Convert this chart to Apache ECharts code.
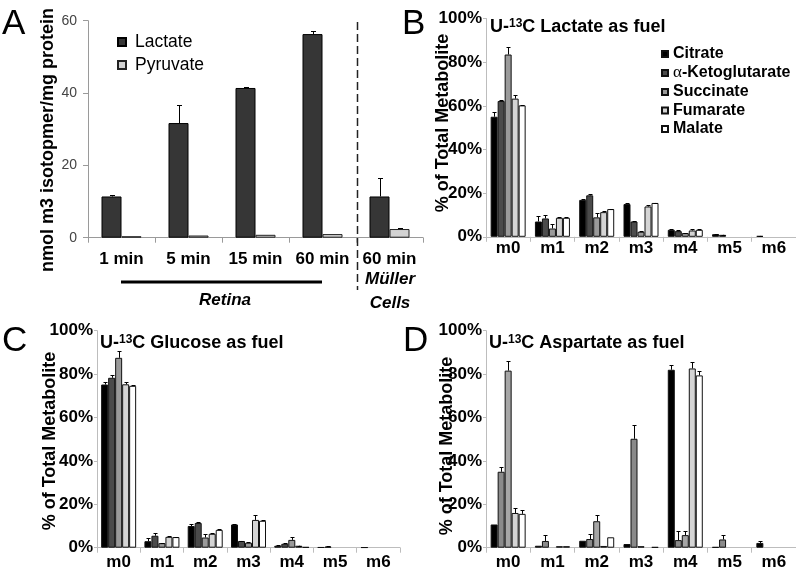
<!DOCTYPE html>
<html><head><meta charset="utf-8">
<script src="https://cdn.jsdelivr.net/npm/echarts@6/dist/echarts.min.js"></script>
<style>html,body{margin:0;padding:0;background:#fff}#c{width:796px;height:575px}</style>
</head><body><div id="c"></div>
<script>
// ---------- Panel A data ----------
const aCategories = ['1 min', '5 min', '15 min', '60 min', '60 min'];
const aLactate    = [11.4, 31.7, 41.4, 56.3, 11.4];
const aLactateSD  = [0.4, 4.9, 0.3, 0.9, 5.1];
const aPyruvate   = [0.4, 0.6, 0.8, 1.0, 2.4];
const aPyruvateSD = [0, 0, 0, 0, 0.4];

// ---------- Panels B-D shared ----------
const massCategories = ['m0', 'm1', 'm2', 'm3', 'm4', 'm5', 'm6'];
const metabolites = ['Citrate', 'α-Ketoglutarate', 'Succinate', 'Fumarate', 'Malate'];

// B: U-13C Lactate as fuel
const bCitrate   = [55.0, 7.0, 16.9, 15.0, 3.2, 1.2, 0.4];
const bAKG       = [62.2, 8.4, 19.0, 7.0, 2.6, 0.9, 0];
const bSuccinate = [83.5, 3.8, 8.9, 2.3, 1.7, 0, 0];
const bFumarate  = [63.3, 8.7, 11.3, 13.9, 2.9, 0, 0];
const bMalate    = [60.2, 8.7, 12.7, 15.5, 3.2, 0, 0];
const bCitrateSD   = [2.3, 2.5, 0.5, 0.3, 0.3, 0.2, 0.1];
const bAKGSD       = [0.5, 1.7, 0.6, 0.1, 0.3, 0.1, 0];
const bSuccinateSD = [3.3, 2.0, 1.8, 0.2, 0.2, 0, 0];
const bFumarateSD  = [1.5, 0.2, 0.7, 0.6, 0.6, 0, 0];
const bMalateSD    = [0.4, 0.2, 0.2, 0.2, 0.6, 0, 0];

// C: U-13C Glucose as fuel
const cCitrate   = [75.2, 3.0, 10.0, 10.7, 0.9, 0.2, 0.15];
const cAKG       = [78.3, 5.5, 11.4, 3.1, 1.8, 0.5, 0];
const cSuccinate = [87.5, 2.1, 4.7, 2.3, 3.6, 0, 0];
const cFumarate  = [75.3, 5.0, 6.4, 12.8, 0.9, 0, 0];
const cMalate    = [74.6, 4.9, 8.2, 12.4, 0.3, 0, 0];
const cCitrateSD   = [1.0, 1.6, 1.0, 0.3, 0.2, 0, 0];
const cAKGSD       = [1.5, 1.4, 0.3, 0.2, 0.2, 0.1, 0];
const cSuccinateSD = [3.0, 0.2, 1.5, 0.2, 1.5, 0, 0];
const cFumarateSD  = [1.2, 0.2, 0.3, 2.1, 0.1, 0, 0];
const cMalateSD    = [0.4, 0.1, 0.2, 0.4, 0, 0, 0];

// D: U-13C Aspartate as fuel
const dCitrate   = [10.7, 0.9, 3.2, 1.7, 82.0, 0.3, 2.2];
const dAKG       = [35.0, 3.1, 4.0, 50.2, 3.5, 3.8, 0];
const dSuccinate = [81.6, 0, 12.2, 0.7, 5.8, 0, 0];
const dFumarate  = [16.0, 0.7, 0.8, 0, 82.6, 0, 0];
const dMalate    = [15.6, 0.7, 4.8, 0.3, 79.4, 0, 0];
const dCitrateSD   = [0, 0, 0, 0, 2.2, 0, 1.0];
const dAKGSD       = [2.3, 2.9, 2.5, 6.5, 4.2, 2.2, 0];
const dSuccinateSD = [4.3, 0, 2.8, 0, 2.1, 0, 0];
const dFumarateSD  = [2.3, 0, 0, 0, 3.1, 0, 0];
const dMalateSD    = [1.8, 0, 0, 0, 1.8, 0, 0];

// ---------- styles ----------
const FONT = "'Liberation Sans', Arial, Helvetica, sans-serif";
const bcColors = ['#000000', '#4b4b4b', '#9a9a9a', '#d4d4d4', '#ffffff'];
const dColors  = ['#000000', '#8a8a8a', '#a6a6a6', '#d4d4d4', '#ffffff'];

function errorSeries(idx, valueLists, sdLists, barW, capW) {
  const n = valueLists.length;
  const data = [];
  valueLists.forEach((vals, k) => vals.forEach((v, i) => {
    const sd = sdLists[k][i];
    if (sd > 0) data.push([i, v, v + sd, k]);
  }));
  return {
    type: 'custom', xAxisIndex: idx, yAxisIndex: idx, z: 5, silent: true,
    encode: { x: 0, y: [1, 2] }, data,
    renderItem(params, api) {
      const i = api.value(0), k = api.value(3);
      const b = api.coord([i, api.value(1)]);
      const t = api.coord([i, api.value(2)]);
      const x = Math.round(b[0] + (k - (n - 1) / 2) * barW) + 0.5;
      const ty = Math.round(t[1]) + 0.5;
      return { type: 'group', children: [
        { type: 'line', shape: { x1: x, y1: b[1], x2: x, y2: ty }, style: { stroke: '#000', lineWidth: 1 } },
        { type: 'line', shape: { x1: x - capW / 2, y1: ty, x2: x + capW / 2, y2: ty }, style: { stroke: '#000', lineWidth: 1 } }
      ]};
    }
  };
}

function panelBars(idx, valueLists, colors) {
  return valueLists.map((vals, k) => ({
    type: 'bar', name: metabolites[k], xAxisIndex: idx, yAxisIndex: idx,
    data: vals.map(v => (v === 0 ? '-' : v)),
    barWidth: 7, barGap: '0%',
    itemStyle: { color: colors[k], borderColor: '#111', borderWidth: 1 },
    emphasis: { disabled: true }
  }));
}

const catAxisBase = (idx, labelMargin) => ({
  type: 'category', gridIndex: idx, data: massCategories,
  axisLine: { lineStyle: { color: '#bdbdbd', width: 1 } },
  axisTick: { show: true, length: 5, lineStyle: { color: '#bdbdbd' } },
  axisLabel: { interval: 0, color: '#000', fontSize: 17, fontWeight: 'bold', fontFamily: FONT, margin: labelMargin },
  splitLine: { show: false }
});
const pctAxis = (idx) => ({
  type: 'value', gridIndex: idx, min: 0, max: 100, interval: 20,
  axisLine: { show: true, lineStyle: { color: '#bdbdbd', width: 1 } },
  axisTick: { show: true, length: 3, lineStyle: { color: '#bdbdbd' } },
  axisLabel: { color: '#000', fontSize: 17, fontWeight: 'bold', fontFamily: FONT, margin: 4, formatter: '{value}%' },
  splitLine: { show: false }
});

const series = [
  { type: 'bar', name: 'Lactate', xAxisIndex: 0, yAxisIndex: 0, data: aLactate, barWidth: 20, barGap: '0%',
    itemStyle: { color: '#363636', borderColor: '#000', borderWidth: 1 }, emphasis: { disabled: true } },
  { type: 'bar', name: 'Pyruvate', xAxisIndex: 0, yAxisIndex: 0, data: aPyruvate, barWidth: 20, barGap: '0%',
    itemStyle: { color: '#d2d2d2', borderColor: '#222', borderWidth: 1 }, emphasis: { disabled: true } },
  errorSeries(0, [aLactate, aPyruvate], [aLactateSD, aPyruvateSD], 20, 5),
  ...panelBars(1, [bCitrate, bAKG, bSuccinate, bFumarate, bMalate], bcColors),
  errorSeries(1, [bCitrate, bAKG, bSuccinate, bFumarate, bMalate], [bCitrateSD, bAKGSD, bSuccinateSD, bFumarateSD, bMalateSD], 7, 4),
  ...panelBars(2, [cCitrate, cAKG, cSuccinate, cFumarate, cMalate], bcColors),
  errorSeries(2, [cCitrate, cAKG, cSuccinate, cFumarate, cMalate], [cCitrateSD, cAKGSD, cSuccinateSD, cFumarateSD, cMalateSD], 7, 4),
  ...panelBars(3, [dCitrate, dAKG, dSuccinate, dFumarate, dMalate], dColors),
  errorSeries(3, [dCitrate, dAKG, dSuccinate, dFumarate, dMalate], [dCitrateSD, dAKGSD, dSuccinateSD, dFumarateSD, dMalateSD], 7, 4)
];

function txt(text, x, y, opts) {
  return Object.assign({ type: 'text', x, y, silent: true,
    style: Object.assign({ text, fill: '#000', fontFamily: FONT, fontSize: 17, fontWeight: 'bold', align: 'left', verticalAlign: 'middle' }, opts && opts.style) },
    opts && opts.rotation !== undefined ? { rotation: opts.rotation } : {});
}
function titleTxt(pre, sup, post, x, y) {
  return { type: 'text', x, y, silent: true, style: {
    text: '{b|' + pre + '}{s|' + sup + '}{b|' + post + '}', align: 'left', verticalAlign: 'middle',
    rich: {
      b: { fontFamily: FONT, fontSize: 18, fontWeight: 'bold', fill: '#000', lineHeight: 19 },
      s: { fontFamily: FONT, fontSize: 12, fontWeight: 'bold', fill: '#000', verticalAlign: 'top', lineHeight: 13 }
    } } };
}

const option = {
  animation: false,
  backgroundColor: '#fff',
  grid: [
    { left: 88, top: 20.7, width: 335, height: 217, outerBoundsMode: 'none', containLabel: false },
    { left: 486, top: 18.5, width: 310, height: 218.3, outerBoundsMode: 'none', containLabel: false },
    { left: 97, top: 330.7, width: 303, height: 217, outerBoundsMode: 'none', containLabel: false },
    { left: 486, top: 330.7, width: 310, height: 217, outerBoundsMode: 'none', containLabel: false }
  ],
  xAxis: [
    { type: 'category', gridIndex: 0, data: aCategories,
      axisLine: { lineStyle: { color: '#9a9a9a', width: 1 } },
      axisTick: { show: true, length: 5, lineStyle: { color: '#9a9a9a' } },
      axisLabel: { interval: 0, color: '#000', fontSize: 17, fontWeight: 'bold', fontFamily: FONT, margin: 13 },
      splitLine: { show: false } },
    catAxisBase(1, 3), catAxisBase(2, 6), catAxisBase(3, 6)
  ],
  yAxis: [
    { type: 'value', gridIndex: 0, min: 0, max: 60, interval: 20,
      axisLine: { show: true, lineStyle: { color: '#9a9a9a', width: 1 } },
      axisTick: { show: true, length: 5, lineStyle: { color: '#9a9a9a' } },
      axisLabel: { color: '#444', fontSize: 14, fontFamily: FONT, margin: 11 },
      splitLine: { show: false } },
    pctAxis(1), pctAxis(2), pctAxis(3)
  ],
  legend: [
    { data: ['Lactate', 'Pyruvate'], orient: 'vertical', left: 117, top: 33, padding: 0,
      itemWidth: 8, itemHeight: 8, itemGap: 5, icon: 'rect', selectedMode: false,
      textStyle: { fontSize: 17.5, fontFamily: FONT, color: '#000', padding: [0, 0, 0, 4] } },
    { data: metabolites, orient: 'vertical', left: 661, top: 46, padding: 0,
      itemWidth: 6, itemHeight: 6, itemGap: 2.5, icon: 'rect', selectedMode: false,
      formatter: name => name === 'α-Ketoglutarate' ? '{g|α}{t|-Ketoglutarate}' : '{t|' + name + '}',
      textStyle: { fontSize: 16, fontWeight: 'bold', fontFamily: FONT, color: '#000',
        rich: {
          t: { fontSize: 16, fontWeight: 'bold', fontFamily: FONT, color: '#000' },
          g: { fontSize: 17, fontWeight: 'normal', fontFamily: "'Liberation Serif', serif", color: '#000' }
        } } }
  ],
  graphic: [
    // panel letters
    txt('A', 2, 24, { style: { fontSize: 35, fontWeight: 'normal' } }),
    txt('B', 402, 24, { style: { fontSize: 35, fontWeight: 'normal' } }),
    txt('C', 2, 341, { style: { fontSize: 35, fontWeight: 'normal' } }),
    txt('D', 403, 341, { style: { fontSize: 35, fontWeight: 'normal' } }),
    // y-axis titles
    txt('nmol m3 isotopmer/mg protein', 48, 140, { rotation: Math.PI / 2, style: { fontSize: 18, align: 'center' } }),
    txt('% of Total Metabolite', 443, 123, { rotation: Math.PI / 2, style: { fontSize: 18, align: 'center' } }),
    txt('% of Total Metabolite', 50, 441, { rotation: Math.PI / 2, style: { fontSize: 18, align: 'center' } }),
    txt('% of Total Metabolite', 447, 446, { rotation: Math.PI / 2, style: { fontSize: 18, align: 'center' } }),
    // panel titles
    titleTxt('U-', '13', 'C Lactate as fuel', 490, 27),
    titleTxt('U-', '13', 'C Glucose as fuel', 100, 343),
    titleTxt('U-', '13', 'C Aspartate as fuel', 489, 343),
    // panel A annotations
    { type: 'line', silent: true, shape: { x1: 357.5, y1: 22, x2: 357.5, y2: 290 }, style: { stroke: '#222', lineWidth: 1.5, lineDash: [8, 4] } },
    { type: 'line', silent: true, shape: { x1: 121, y1: 282, x2: 322, y2: 282 }, style: { stroke: '#000', lineWidth: 3 } },
    txt('Retina', 225, 300, { style: { fontStyle: 'italic', align: 'center' } }),
    txt('Müller', 390, 279, { style: { fontStyle: 'italic', align: 'center' } }),
    txt('Cells', 390, 303, { style: { fontStyle: 'italic', align: 'center' } })
  ],
  series
};

const chart = echarts.init(document.getElementById('c'), null, { renderer: 'canvas', width: 796, height: 575 });
chart.setOption(option);
</script>
</body></html>
